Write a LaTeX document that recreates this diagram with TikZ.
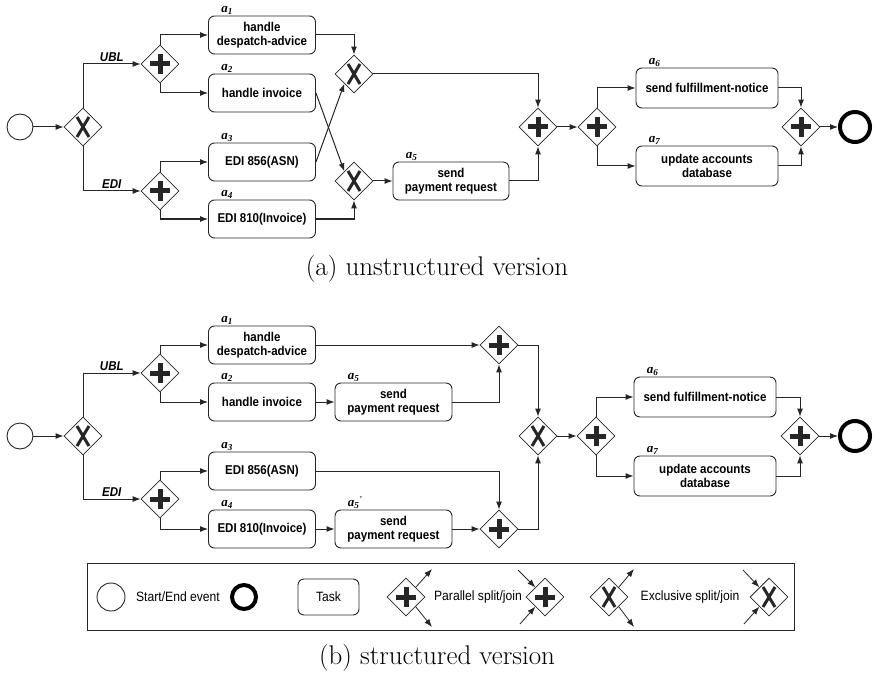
\documentclass[tikz,border=0pt]{standalone}
\usepackage{fontspec}
\newfontfamily\taskfont[FakeStretch=0.9]{Liberation Sans}
\newfontfamily\labelfont{Liberation Serif}
\usetikzlibrary{shapes.geometric, arrows.meta, positioning, calc}
\newcommand{\act}[1]{{\labelfont\bfseries\itshape a\textsubscript{#1}}}
\newcommand{\actp}[1]{{\labelfont\bfseries\itshape a\textsubscript{#1}\textsuperscript{'}}}
\tikzset{
    base/.style={text centered, align=center, font=\taskfont\bfseries\fontsize{12.8}{14.5}\selectfont},
    task/.style={base, rectangle, rounded corners=6pt, draw=black!85, line width=0.9pt, minimum width=107pt, minimum height=38pt, inner sep=2pt},
    gateway/.style={diamond, draw=black!85, line width=0.8pt, minimum width=38pt, minimum height=38pt, inner sep=0pt, fill=white},
    andgw/.style={gateway, path picture={\draw[line width=5pt] (path picture bounding box.center) +(-10pt,0pt) -- +(10pt,0pt) +(0pt,-10pt) -- +(0pt,10pt);}},
    xorgw/.style={gateway, path picture={\draw[line width=3pt] (path picture bounding box.center) +(-6pt,-10pt) -- +(6pt,10pt) +(6pt,-10pt) -- +(-6pt,10pt);}},
    startev/.style={circle, draw=black!85, line width=0.9pt, minimum size=26pt, inner sep=0pt},
    endev/.style={circle, draw=black, line width=4pt, minimum size=30pt, inner sep=0pt},
    arrow/.style={line width=1pt, draw=black!85, -{Latex[length=8pt,width=6pt]}},
    branch/.style={above, inner sep=2pt, font=\taskfont\bfseries\itshape\fontsize{12.8}{14}\selectfont},
    lab/.style={anchor=south west, xshift=12pt, inner sep=1pt, font=\fontsize{13}{15}\selectfont},
    legendtext/.style={font=\taskfont\fontsize{13.5}{16}\selectfont},
    caption/.style={font=\fontsize{27}{30}\selectfont}
}
\begin{document}
\begin{tikzpicture}[x=1pt, y=-1pt]
    \useasboundingbox (0,0) rectangle (874,676);

    % (a) unstructured version
    \node (sa) [startev] at (20,127) {};
    \node (xa0) [xorgw] at (83,127) {};
    \node (pa1) [andgw] at (160,64) {};
    \node (pa2) [andgw] at (160,191) {};
    \node (ta1) [task, label={[lab]north west:\act{1}}] at (262,35) {handle\\despatch-advice};
    \node (ta2) [task, label={[lab]north west:\act{2}}] at (262,93) {handle invoice};
    \node (ta3) [task, label={[lab]north west:\act{3}}] at (262,162) {EDI 856(ASN)};
    \node (ta4) [task, label={[lab]north west:\act{4}}] at (262,219) {EDI 810(Invoice)};
    \node (xa1) [xorgw] at (354,74) {};
    \node (xa2) [xorgw] at (354,181) {};
    \node (ta5) [task, minimum width=116pt, label={[lab]north west:\act{5}}] at (451,181) {send\\payment request};
    \node (pa3) [andgw] at (538,127) {};
    \node (pa4) [andgw] at (597,127) {};
    \node (ta6) [task, minimum width=142pt, minimum height=40pt, label={[lab]north west:\act{6}}] at (707,88) {send fulfillment-notice};
    \node (ta7) [task, minimum width=142pt, minimum height=40pt, label={[lab]north west:\act{7}}] at (707,166) {update accounts\\database};
    \node (pa5) [andgw] at (801,127) {};
    \node (ea) [endev] at (855,127) {};

    \draw [arrow] (sa) -- (xa0);
    \draw [arrow] (xa0.north) |- (pa1.west) node [branch, pos=0.75] {UBL};
    \draw [arrow] (xa0.south) |- (pa2.west) node [branch, pos=0.75] {EDI};
    \draw [arrow] (pa1.north) |- (ta1.west);
    \draw [arrow] (pa1.south) |- (ta2.west);
    \draw [arrow] (pa2.north) |- (ta3.west);
    \draw [arrow] (pa2.south) |- (ta4.west);
    \draw [arrow] (ta1.east) -| (xa1.north);
    \draw [arrow] (ta3.east) -- (xa1.south west);
    \draw [arrow] (ta2.east) -- (xa2.north west);
    \draw [arrow] (ta4.east) -| (xa2.south);
    \draw [arrow] (xa2) -- (ta5);
    \draw [arrow] (xa1.east) -| (pa3.north);
    \draw [arrow] (ta5.east) -| (pa3.south);
    \draw [arrow] (pa3) -- (pa4);
    \draw [arrow] (pa4.north) |- (ta6.west);
    \draw [arrow] (pa4.south) |- (ta7.west);
    \draw [arrow] (ta6.east) -| (pa5.north);
    \draw [arrow] (ta7.east) -| (pa5.south);
    \draw [arrow] (pa5) -- (ea);

    \node (capa) [caption] at (437,269) {(a) unstructured version};

    % (b) structured version
    \node (sb) [startev] at (20,436) {};
    \node (xb0) [xorgw] at (83,436) {};
    \node (pb1) [andgw] at (160,373) {};
    \node (pb2) [andgw] at (160,499) {};
    \node (tb1) [task, label={[lab]north west:\act{1}}] at (262,345) {handle\\despatch-advice};
    \node (tb2) [task, label={[lab]north west:\act{2}}] at (262,402) {handle invoice};
    \node (tb3) [task, label={[lab]north west:\act{3}}] at (262,471) {EDI 856(ASN)};
    \node (tb4) [task, label={[lab]north west:\act{4}}] at (262,529) {EDI 810(Invoice)};
    \node (tb5) [task, minimum width=117pt, label={[lab]north west:\act{5}}] at (393.5,402) {send\\payment request};
    \node (tb5p) [task, minimum width=117pt, label={[lab]north west:\actp{5}}] at (393.5,529) {send\\payment request};
    \node (pb3) [andgw] at (499,345) {};
    \node (pb4) [andgw] at (499,529) {};
    \node (xb1) [xorgw] at (538,436) {};
    \node (pb5) [andgw] at (596,436) {};
    \node (tb6) [task, minimum width=142pt, minimum height=40pt, label={[lab]north west:\act{6}}] at (705,397) {send fulfillment-notice};
    \node (tb7) [task, minimum width=142pt, minimum height=40pt, label={[lab]north west:\act{7}}] at (705,476) {update accounts\\database};
    \node (pb6) [andgw] at (800,436) {};
    \node (eb) [endev] at (855,436) {};

    \draw [arrow] (sb) -- (xb0);
    \draw [arrow] (xb0.north) |- (pb1.west) node [branch, pos=0.75] {UBL};
    \draw [arrow] (xb0.south) |- (pb2.west) node [branch, pos=0.75] {EDI};
    \draw [arrow] (pb1.north) |- (tb1.west);
    \draw [arrow] (pb1.south) |- (tb2.west);
    \draw [arrow] (pb2.north) |- (tb3.west);
    \draw [arrow] (pb2.south) |- (tb4.west);
    \draw [arrow] (tb1) -- (pb3);
    \draw [arrow] (tb2) -- (tb5);
    \draw [arrow] (tb5.east) -| (pb3.south);
    \draw [arrow] (tb3.east) -| (pb4.north);
    \draw [arrow] (tb4) -- (tb5p);
    \draw [arrow] (tb5p) -- (pb4);
    \draw [arrow] (pb3.east) -| (xb1.north);
    \draw [arrow] (pb4.east) -| (xb1.south);
    \draw [arrow] (xb1) -- (pb5);
    \draw [arrow] (pb5.north) |- (tb6.west);
    \draw [arrow] (pb5.south) |- (tb7.west);
    \draw [arrow] (tb6.east) -| (pb6.north);
    \draw [arrow] (tb7.east) -| (pb6.south);
    \draw [arrow] (pb6) -- (eb);

    % legend
    \node (legend) [draw=black!85, line width=1pt, minimum width=707pt, minimum height=67pt, inner sep=0pt] at (440.5,596.5) {};
    \node (lstart) [startev, minimum size=28pt] at (111,597) {};
    \node (ltxt1) [legendtext] at (178,597) {Start/End event};
    \node (lend) [endev, minimum size=24pt] at (244,597) {};
    \node (ltask) [task, legendtext, minimum width=61pt, minimum height=36pt] at (328.5,597) {Task};
    \node (lpsplit) [andgw] at (406,597) {};
    \node (ltxt2) [legendtext] at (478,597) {Parallel split/join};
    \node (lpjoin) [andgw] at (545,597) {};
    \node (lxsplit) [xorgw] at (609,597) {};
    \node (ltxt3) [legendtext] at (690,597) {Exclusive split/join};
    \node (lxjoin) [xorgw] at (769,597) {};

    \coordinate (lps1) at (432,569);
    \coordinate (lps2) at (432,627);
    \coordinate (lpj1) at (518,570);
    \coordinate (lpj2) at (520,624);
    \coordinate (lxs1) at (634,569);
    \coordinate (lxs2) at (634,627);
    \coordinate (lxj1) at (743,570);
    \coordinate (lxj2) at (744,624);
    \draw [arrow, line width=0.8pt] (lpsplit.north east) -- (lps1);
    \draw [arrow, line width=0.8pt] (lpsplit.south east) -- (lps2);
    \draw [arrow, line width=0.8pt] (lpj1) -- (lpjoin.north west);
    \draw [arrow, line width=0.8pt] (lpj2) -- (lpjoin.south west);
    \draw [arrow, line width=0.8pt] (lxsplit.north east) -- (lxs1);
    \draw [arrow, line width=0.8pt] (lxsplit.south east) -- (lxs2);
    \draw [arrow, line width=0.8pt] (lxj1) -- (lxjoin.north west);
    \draw [arrow, line width=0.8pt] (lxj2) -- (lxjoin.south west);

    \node (capb) [caption] at (437,658) {(b) structured version};
\end{tikzpicture}
\end{document}
